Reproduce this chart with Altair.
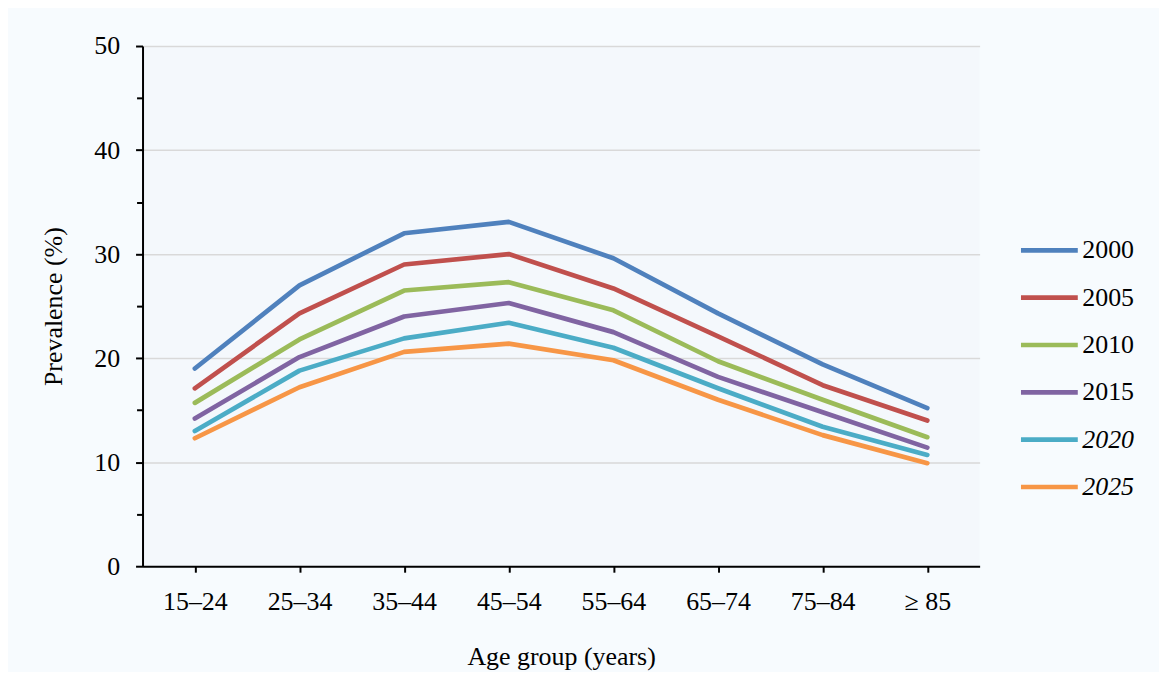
import altair as alt
import pandas as pd

ages = ["15–24", "25–34", "35–44", "45–54", "55–64", "65–74", "75–84", "≥ 85"]
years = ["2000", "2005", "2010", "2015", "2020", "2025"]
v2000 = [19.0, 27.0, 32.0, 33.1, 29.6, 24.3, 19.4, 15.2]
v2005 = [17.1, 24.3, 29.0, 30.0, 26.7, 22.1, 17.4, 14.0]
v2010 = [15.7, 21.8, 26.5, 27.3, 24.6, 19.7, 16.0, 12.4]
v2015 = [14.2, 20.1, 24.0, 25.3, 22.5, 18.2, 14.8, 11.4]
v2020 = [13.0, 18.8, 21.9, 23.4, 21.0, 17.1, 13.4, 10.7]
v2025 = [12.3, 17.2, 20.6, 21.4, 19.8, 16.0, 12.6, 9.9]
colors = ["#4f81bd", "#c0504d", "#9bbb59", "#8064a2", "#4bacc6", "#f79646"]
y_ticks = [0, 5, 10, 15, 20, 25, 30, 35, 40, 45, 50]

series = [v2000, v2005, v2010, v2015, v2020, v2025]
rows = []
for yr, vals in zip(years, series):
    for a, v in zip(ages, vals):
        rows.append({"age": a, "year": yr, "value": v})
df = pd.DataFrame(rows)

FONT = "Liberation Serif"

chart = alt.Chart(df).mark_line(strokeWidth=4.7, strokeCap="round", strokeJoin="round").encode(
    x=alt.X("age:N", sort=ages,
            scale=alt.Scale(type="point", padding=0.5),
            axis=alt.Axis(title="Age group (years)", labelAngle=0, tickSize=6, tickWidth=2,
                          tickColor="black", domainColor="black", domainWidth=2,
                          labelPadding=16, titlePadding=30, grid=False)),
    y=alt.Y("value:Q",
            scale=alt.Scale(domain=[0, 50], nice=False),
            axis=alt.Axis(title="Prevalence (%)", values=y_ticks,
                          labelExpr="datum.value % 10 == 0 ? datum.label : ''",
                          tickSize=alt.ConditionalAxisNumber(condition={"test": "datum.value % 10 == 0", "value": 7}, value=6),
                          gridOpacity=alt.ConditionalAxisNumber(condition={"test": "datum.value % 10 == 0 && datum.value > 0", "value": 1}, value=0),
                          gridColor="#d9d9d9", gridWidth=1.5,
                          tickColor="black", tickWidth=2, domainColor="black", domainWidth=2,
                          labelPadding=16, titlePadding=27)),
    color=alt.Color("year:N", sort=years,
                    scale=alt.Scale(domain=years, range=colors),
                    legend=alt.Legend(title=None, orient="none", legendX=879, legendY=174,
                                      symbolType="stroke", symbolSize=3249, symbolStrokeWidth=4.7,
                                      labelOffset=2, rowPadding=3.5,
                                      labelFont=FONT, labelFontSize=26, labelColor="black",
                                      labelFontStyle=alt.ExprRef("datum.label == '2020' || datum.label == '2025' ? 'italic' : 'normal'"))),
).properties(
    width=840, height=522,
    autosize=alt.AutoSizeParams(type="none"),
    padding={"left": 135, "top": 37, "right": 180, "bottom": 105},
    background="#f7fbfe",
).configure(
    font=FONT
).configure_view(
    fill="#f4f8fc", stroke=None
).configure_axis(
    labelFont=FONT, titleFont=FONT, labelFontSize=26, titleFontSize=26,
    labelColor="black", titleColor="black", titleFontWeight="normal",
).configure_legend(
    labelFont=FONT, labelFontSize=26, labelColor="black",
)

chart.save("out.html", embed_options={"renderer": "svg", "actions": False})
